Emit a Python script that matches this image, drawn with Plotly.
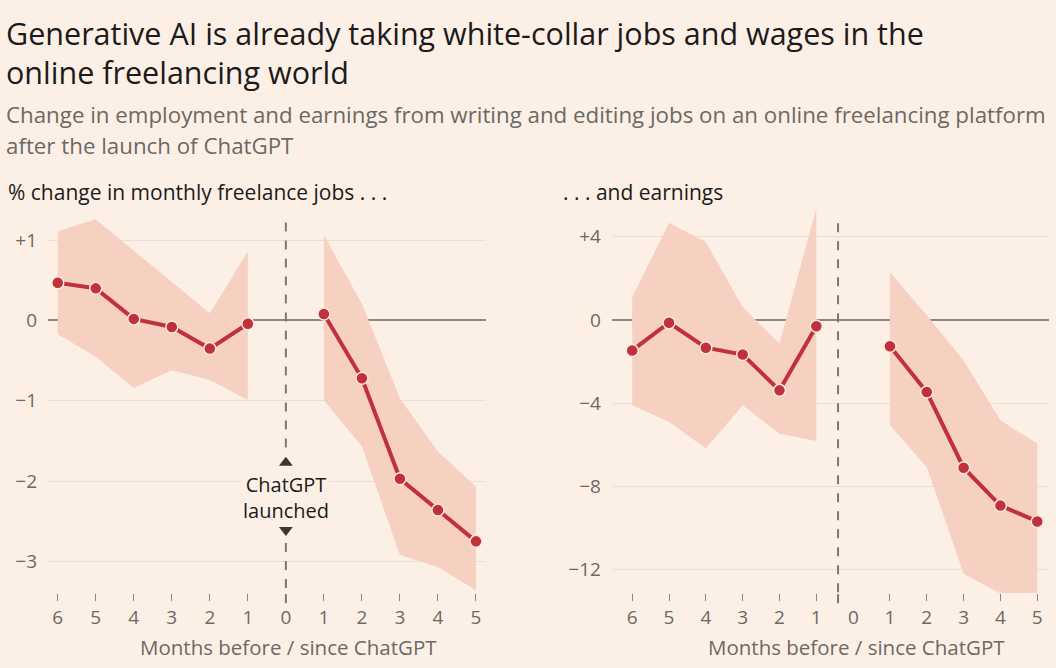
import plotly.graph_objects as go

# months before (negative) / since (positive) ChatGPT launch
months_before = [-6, -5, -4, -3, -2, -1]
months_after = [1, 2, 3, 4, 5]
tick_vals = [-6, -5, -4, -3, -2, -1, 0, 1, 2, 3, 4, 5]
tick_text = ["6", "5", "4", "3", "2", "1", "0", "1", "2", "3", "4", "5"]

# % change in monthly freelance jobs
jobs_before = [0.47, 0.40, 0.02, -0.08, -0.35, -0.04]
jobs_before_hi = [1.11, 1.26, 0.87, 0.48, 0.09, 0.86]
jobs_before_lo = [-0.17, -0.45, -0.84, -0.62, -0.74, -0.99]
jobs_after = [0.08, -0.72, -1.97, -2.36, -2.75]
jobs_after_hi = [1.06, 0.21, -0.97, -1.63, -2.07]
jobs_after_lo = [-0.99, -1.57, -2.92, -3.07, -3.36]

# % change in earnings
earn_before = [-1.46, -0.13, -1.33, -1.66, -3.38, -0.30]
earn_before_hi = [1.10, 4.68, 3.75, 0.63, -1.13, 5.36]
earn_before_lo = [-4.10, -4.90, -6.18, -4.10, -5.46, -5.82]
earn_after = [-1.26, -3.46, -7.10, -8.92, -9.68]
earn_after_hi = [2.31, 0.23, -1.94, -4.82, -5.94]
earn_after_lo = [-5.06, -7.07, -12.19, -13.15, -13.15]

jobs_yticks = [1, 0, -1, -2, -3]
jobs_ylabels = ["+1", "0", "−1", "−2", "−3"]
earn_yticks = [4, 0, -4, -8, -12]
earn_ylabels = ["+4", "0", "−4", "−8", "−12"]

BG = "#fcf0e6"
BAND = "#f6d1c1"
RED = "#c1313d"
GRID = "#eadfd4"
ZERO = "#8d8782"
GREY = "#6e6863"
DARK = "#1d1b1a"
FONT = "Open Sans"
TICK_SIZE = 19
LABEL_SIZE = 20.5

fig = go.Figure()


def add_panel(xs, ys, hi, lo, xa, ya):
    fig.add_trace(go.Scatter(x=xs, y=hi, mode="lines", line=dict(width=0),
                             hoverinfo="skip", showlegend=False, xaxis=xa, yaxis=ya))
    fig.add_trace(go.Scatter(x=xs, y=lo, mode="lines", line=dict(width=0),
                             fill="tonexty", fillcolor=BAND,
                             hoverinfo="skip", showlegend=False, xaxis=xa, yaxis=ya))
    fig.add_trace(go.Scatter(x=xs, y=ys, mode="lines+markers",
                             line=dict(color=RED, width=4),
                             marker=dict(size=12, color=RED, line=dict(color="#fbe8df", width=1.5)),
                             cliponaxis=False, showlegend=False, xaxis=xa, yaxis=ya))


add_panel(months_before, jobs_before, jobs_before_hi, jobs_before_lo, "x", "y")
add_panel(months_after, jobs_after, jobs_after_hi, jobs_after_lo, "x", "y")
add_panel(months_before, earn_before, earn_before_hi, earn_before_lo, "x2", "y2")
add_panel(months_after, earn_after, earn_after_hi, earn_after_lo, "x2", "y2")

# launch triangles
fig.add_trace(go.Scatter(x=[0, 0], y=[-1.77, -2.61], mode="markers",
                         marker=dict(symbol=["triangle-up", "triangle-down"], size=12, color="#3b3631"),
                         showlegend=False, hoverinfo="skip", xaxis="x", yaxis="y"))

axis_x = dict(tickvals=tick_vals, ticktext=tick_text, ticks="outside", ticklen=7,
              tickwidth=1.3, tickcolor="#8a847f", showgrid=False, zeroline=False,
              showline=False, tickfont=dict(family=FONT, size=TICK_SIZE, color=GREY),
              fixedrange=True)
axis_y = dict(ticks="", showgrid=True, gridcolor=GRID, gridwidth=1, zeroline=True,
              zerolinecolor=ZERO, zerolinewidth=1.5, showline=False,
              tickfont=dict(family=FONT, size=TICK_SIZE, color=GREY), ticklabelstandoff=10)

fig.update_layout(
    width=1056, height=668,
    paper_bgcolor=BG, plot_bgcolor=BG,
    margin=dict(l=0, r=0, t=0, b=0),
    font=dict(family=FONT, color=DARK),
    xaxis=dict(axis_x, domain=[0.0455, 0.4602], range=[-6.255, 5.263]),
    xaxis2=dict(axis_x, domain=[0.5795, 0.9934], range=[-6.55, 5.32],
                tickvals=[v for v in tick_vals if v != 0],
                ticktext=[t for v, t in zip(tick_vals, tick_text) if v != 0]),
    yaxis=dict(axis_y, domain=[0.1123, 0.6931], range=[-3.393, 1.438],
               tickvals=jobs_yticks, ticktext=jobs_ylabels),
    yaxis2=dict(axis_y, domain=[0.1123, 0.6931], range=[-13.12, 5.53],
                tickvals=earn_yticks, ticktext=earn_ylabels, anchor="x2"),
)
fig.update_layout(xaxis2_anchor="y2")

# launch markers: dashed vertical lines
dash = dict(color="#7d7772", width=2, dash="dash")
fig.add_shape(type="line", xref="x", yref="y", x0=0, x1=0, y0=1.22, y1=-1.66, line=dash)
fig.add_shape(type="line", xref="x", yref="y", x0=0, x1=0, y0=-2.77, y1=-3.393, line=dash)
fig.add_shape(type="line", xref="x", yref="paper", x0=0, x1=0, y0=0.0971, y1=0.1123, line=dash)
fig.add_shape(type="line", xref="x2", yref="y2", x0=-0.41, x1=-0.41, y0=4.65, y1=-13.12, line=dash)
fig.add_shape(type="line", xref="x2", yref="paper", x0=-0.41, x1=-0.41, y0=0.0971, y1=0.1123, line=dash)

fig.add_annotation(x=0, y=-2.2, xref="x", yref="y", text="ChatGPT<br>launched",
                   showarrow=False, bgcolor=BG, borderpad=0,
                   font=dict(family=FONT, size=20, color=DARK))

# right panel "0" label sits without a tick
fig.add_annotation(x=0, y=1 - 617 / 668, xref="x2", yref="paper", text="0", showarrow=False,
                   yanchor="middle", font=dict(family=FONT, size=TICK_SIZE, color=GREY))

# titles and labels
fig.add_annotation(x=4 / 1056, y=1 - 33 / 668, xref="paper", yref="paper", xanchor="left",
                   yanchor="middle", showarrow=False,
                   text="Generative AI is already taking white-collar jobs and wages in the",
                   font=dict(family=FONT, size=30.5, color=DARK))
fig.add_annotation(x=4 / 1056, y=1 - 72 / 668, xref="paper", yref="paper", xanchor="left",
                   yanchor="middle", showarrow=False, text="online freelancing world",
                   font=dict(family=FONT, size=30.5, color=DARK))
fig.add_annotation(x=4 / 1056, y=1 - 115 / 668, xref="paper", yref="paper", xanchor="left",
                   yanchor="middle", showarrow=False,
                   text="Change in employment and earnings from writing and editing jobs on an online freelancing platform",
                   font=dict(family=FONT, size=22.3, color=GREY))
fig.add_annotation(x=4 / 1056, y=1 - 145 / 668, xref="paper", yref="paper", xanchor="left",
                   yanchor="middle", showarrow=False, text="after the launch of ChatGPT",
                   font=dict(family=FONT, size=22.3, color=GREY))
fig.add_annotation(x=6 / 1056, y=1 - 192 / 668, xref="paper", yref="paper", xanchor="left",
                   yanchor="middle", showarrow=False, text="% change in monthly freelance jobs . . .",
                   font=dict(family=FONT, size=21, color=DARK))
fig.add_annotation(x=561 / 1056, y=1 - 192 / 668, xref="paper", yref="paper", xanchor="left",
                   yanchor="middle", showarrow=False, text=". . . and earnings",
                   font=dict(family=FONT, size=21, color=DARK))
fig.add_annotation(x=288 / 1056, y=1 - 647 / 668, xref="paper", yref="paper", xanchor="center",
                   yanchor="middle", showarrow=False, text="Months before / since ChatGPT",
                   font=dict(family=FONT, size=LABEL_SIZE, color=GREY))
fig.add_annotation(x=856 / 1056, y=1 - 647 / 668, xref="paper", yref="paper", xanchor="center",
                   yanchor="middle", showarrow=False, text="Months before / since ChatGPT",
                   font=dict(family=FONT, size=LABEL_SIZE, color=GREY))

# drop the browser's default page margin so the figure sits at the top-left corner
fig.write_html("out.html", config={"displayModeBar": False},
               post_script="document.body.style.margin='0';document.body.style.background='#fcf0e6';")
